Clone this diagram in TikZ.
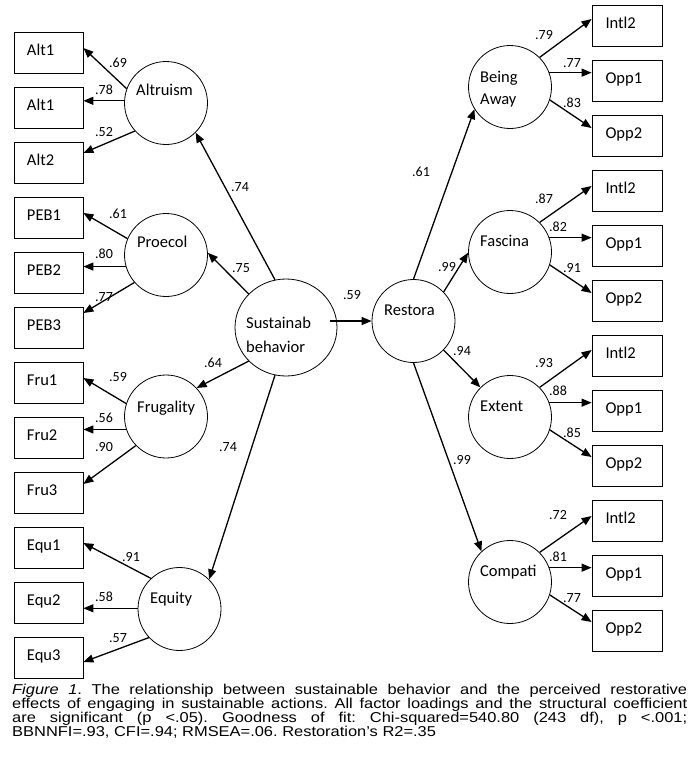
\documentclass[tikz,border=0pt]{standalone}
\usepackage{fontspec}
\setmainfont{Carlito}
\newfontfamily\capfont[FakeStretch=1.15]{Liberation Sans}
\usetikzlibrary{arrows.meta,calc,shapes.geometric}
\frenchspacing
\begin{document}
\begin{tikzpicture}[x=1pt,y=-1pt,
  obs/.style={draw, line width=0.8pt, minimum width=69pt, minimum height=41pt,
    inner xsep=13pt, inner ysep=0pt, text width=43pt, align=left,
    text height=10.5pt, text depth=4pt, font=\fontsize{16.5}{18}\selectfont},
  latent/.style={circle, draw, line width=0.8pt, minimum size=83pt, inner sep=0pt},
  lab/.style={font=\fontsize{16.5}{22}\selectfont, anchor=base west, inner sep=0pt, align=left},
  num/.style={font=\fontsize{14}{16}\selectfont, inner sep=0pt},
  arr/.style={line width=1.3pt, -{Triangle[length=10pt,width=8pt]}},
  captext/.style={font=\capfont\fontsize{14.3}{14}\selectfont, inner sep=0pt, anchor=base west}]
\fill[white] (0,0) rectangle (698,769);
\useasboundingbox (0,0) rectangle (698,769);

% left indicator boxes
\node[obs] (b1)  at (48.5,52.5)  {Alt1};
\node[obs] (b2)  at (48.5,107.5) {Alt1};
\node[obs] (b3)  at (48.5,162.5) {Alt2};
\node[obs] (b4)  at (48.5,217.5) {PEB1};
\node[obs] (b5)  at (48.5,272.5) {PEB2};
\node[obs] (b6)  at (48.5,327.5) {PEB3};
\node[obs] (b7)  at (48.5,382.5) {Fru1};
\node[obs] (b8)  at (48.5,437.5) {Fru2};
\node[obs] (b9)  at (48.5,492.5) {Fru3};
\node[obs] (b10) at (48.5,547.5) {Equ1};
\node[obs] (b11) at (48.5,602.5) {Equ2};
\node[obs] (b12) at (48.5,657.5) {Equ3};

% right indicator boxes
\node[obs, minimum width=70pt] (r1)  at (627,25.5)  {Intl2};
\node[obs, minimum width=70pt] (r2)  at (627,80.5)  {Opp1};
\node[obs, minimum width=70pt] (r3)  at (627,135.5) {Opp2};
\node[obs, minimum width=70pt] (r4)  at (627,190.5) {Intl2};
\node[obs, minimum width=70pt] (r5)  at (627,245.5) {Opp1};
\node[obs, minimum width=70pt] (r6)  at (627,300.5) {Opp2};
\node[obs, minimum width=70pt] (r7)  at (627,355.5) {Intl2};
\node[obs, minimum width=70pt] (r8)  at (627,410.5) {Opp1};
\node[obs, minimum width=70pt] (r9)  at (627,465.5) {Opp2};
\node[obs, minimum width=70pt] (r10) at (627,520.5) {Intl2};
\node[obs, minimum width=70pt] (r11) at (627,575.5) {Opp1};
\node[obs, minimum width=70pt] (r12) at (627,630.5) {Opp2};

% latent variables
\node[latent] (alt) at (166,103) {};
\node[latent] (pro) at (166,255) {};
\node[latent] (fru) at (166,416.5) {};
\node[latent] (equ) at (179.5,609) {};
\node[ellipse, draw, line width=0.8pt, minimum width=102pt, minimum height=97pt, inner sep=0pt] (sus) at (286,327.5) {};
\node[latent] (res) at (413.5,321) {};
\node[latent] (ba)  at (510,87) {};
\node[latent] (fas) at (510,252) {};
\node[latent] (ext) at (510,417) {};
\node[latent] (com) at (510,582) {};

% latent labels (base = baseline of last line)
\node[lab] (altT) at (136,95)  {Altruism};
\node[lab] (proT) at (137,247) {Proecol};
\node[lab] (fruT) at (137,412) {Frugality};
\node[lab] (equT) at (150,603) {Equity};
\node[lab, font=\fontsize{16.5}{24}\selectfont] (susT) at (246,352) {Sustainab\\behavior};
\node[lab] (resT) at (384,315) {Restora};
\node[lab] (baT)  at (480,104) {Being\\Away};
\node[lab] (fasT) at (480,246) {Fascina};
\node[lab] (extT) at (480,411) {Extent};
\node[lab] (comT) at (480,576) {Compati};

% left measurement arrows
\draw[arr] (alt.160) -- ($(b1.east)+(0,-4.5)$);
\draw[arr] (alt.177) -- (alt.177 -| b2.east);
\draw[arr] (alt.222) -- ($(b3.east)+(0,-9.5)$);
\draw[arr] (pro.157) -- ($(b4.east)+(0,-4.5)$);
\draw[arr] (pro.196) -- (pro.196 -| b5.east);
\draw[arr] (pro.221) -- ($(b6.east)+(0,-14.5)$);
\draw[arr] (fru.162) -- ($(b7.east)+(0,-4.5)$);
\draw[arr] (fru.198) -- (fru.198 -| b8.east);
\draw[arr] (fru.224) -- ($(b9.east)+(0,-8.5)$);
\draw[arr] (equ.133) -- ($(b10.east)+(0,-4.5)$);
\draw[arr] (equ.179) -- (equ.179 -| b11.east);
\draw[arr] (equ.223) -- ($(b12.east)+(0,4.5)$);

% right measurement arrows
\draw[arr] (ba.45)  -- ($(r1.west)+(0,-6.5)$);
\draw[arr] (ba.20)  -- (ba.20 -| r2.west);
\draw[arr] (ba.342) -- ($(r3.west)+(0,-7.5)$);
\draw[arr] (fas.45)  -- ($(r4.west)+(0,-4.5)$);
\draw[arr] (fas.20)  -- (fas.20 -| r5.west);
\draw[arr] (fas.342) -- ($(r6.west)+(0,-7.5)$);
\draw[arr] (ext.45)  -- ($(r7.west)+(0,-5.5)$);
\draw[arr] (ext.20)  -- (ext.20 -| r8.west);
\draw[arr] (ext.342) -- ($(r9.west)+(0,-8.5)$);
\draw[arr] (com.45)  -- ($(r10.west)+(0,-4.5)$);
\draw[arr] (com.20)  -- (com.20 -| r11.west);
\draw[arr] (com.342) -- ($(r12.west)+(0,-8.5)$);

% structural arrows
\draw[arr] (sus.103) -- (alt.315);
\draw[arr] (sus.138) -- (pro.3);
\draw[arr] (sus.222) -- (fru.43.5);
\draw[arr] (sus.257.5) -- (equ.45.5);
\coordinate (s0) at ($(sus.center)+(44,-6.5)$);
\draw[arr] (s0) -- (s0 -| res.west);
\draw[arr] (res.90) -- (ba.212);
\draw[arr] (res.44.5) -- (fas.181);
\draw[arr] (res.316.5) -- (ext.135);
\draw[arr] (res.270) -- (com.133);

% loadings, left
\node[num] (n1)  at (118,63)  {.69};
\node[num] (n2)  at (104,90)  {.78};
\node[num] (n3)  at (104,132) {.52};
\node[num] (n4)  at (118,214) {.61};
\node[num] (n5)  at (104,254) {.80};
\node[num] (n6)  at (104,297) {.77};
\node[num] (n7)  at (118,377) {.59};
\node[num] (n8)  at (104,418) {.56};
\node[num] (n9)  at (104,447) {.90};
\node[num] (n10) at (131,557) {.91};
\node[num] (n11) at (104,597) {.58};
\node[num] (n12) at (118,638) {.57};
% structural coefficients
\node[num] (s1) at (240,187) {.74};
\node[num] (s2) at (241,268) {.75};
\node[num] (s3) at (213,363) {.64};
\node[num] (s4) at (228,447) {.74};
\node[num] (s5) at (352,295) {.59};
\node[num] (s6) at (421,172) {.61};
\node[num] (s7) at (447,267) {.99};
\node[num] (s8) at (462,351) {.94};
\node[num] (s9) at (462,460) {.99};
% loadings, right
\node[num] (m1)  at (544,35)  {.79};
\node[num] (m2)  at (572,63)  {.77};
\node[num] (m3)  at (572,103) {.83};
\node[num] (m4)  at (544,199) {.87};
\node[num] (m5)  at (558,227) {.82};
\node[num] (m6)  at (572,268) {.91};
\node[num] (m7)  at (544,363) {.93};
\node[num] (m8)  at (558,391) {.88};
\node[num] (m9)  at (572,433) {.85};
\node[num] (m10) at (558,515) {.72};
\node[num] (m11) at (558,557) {.81};
\node[num] (m12) at (572,598) {.77};

% caption
\node[captext] (c1) at (12,694) {\makebox[675pt][s]{\textit{Figure 1}. The relationship between sustainable behavior and the perceived restorative}};
\node[captext] (c2) at (12,708) {\makebox[675pt][s]{effects of engaging in sustainable actions. All factor loadings and the structural coefficient}};
\node[captext] (c3) at (12,722) {\makebox[675pt][s]{are significant (p <.05). Goodness of fit: Chi-squared=540.80 (243 df), p <.001;}};
\node[captext] (c4) at (12,736) {BBNNFI=.93, CFI=.94; RMSEA=.06. Restoration’s R2=.35};
\end{tikzpicture}
\end{document}
